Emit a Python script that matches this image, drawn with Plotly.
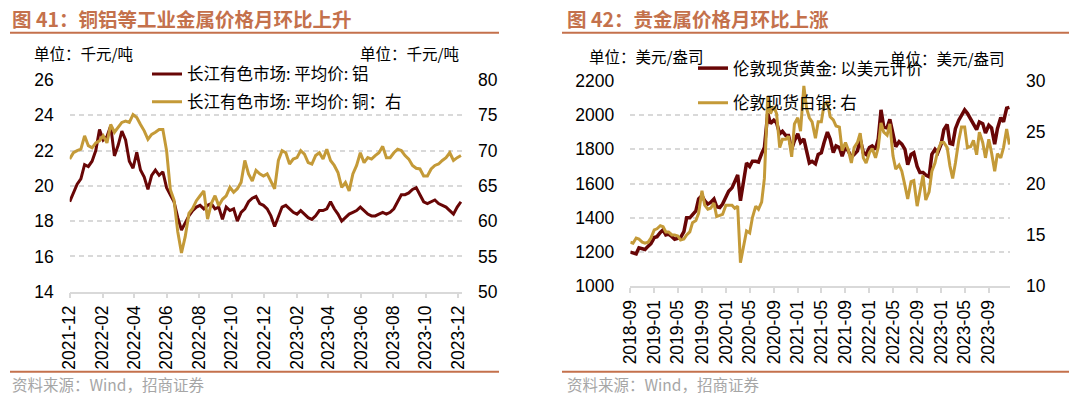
import pandas as pd
import plotly.graph_objects as go

# ---------------- data: left chart (weekly) ----------------
left_start = "2021-12-01"
left_periods = 106
aluminum = [19.1, 19.6, 20.1, 20.4, 21.2, 21.1, 21.4, 22.0, 23.2, 22.6,
            22.8, 23.4, 21.7, 22.3, 23.1, 22.6, 21.4, 21.0, 21.9, 20.9,
            20.5, 19.8, 20.6, 20.9, 20.6, 20.8, 19.9, 19.5, 19.1, 18.2,
            17.5, 17.9, 18.3, 18.6, 18.8, 18.9, 18.7, 18.9, 19.0, 18.7,
            18.8, 18.1, 18.8, 18.6, 18.7, 18.0, 18.5, 18.7, 19.1, 19.3,
            19.4, 19.0, 18.9, 18.7, 18.3, 17.7, 18.2, 18.8, 18.9, 18.7,
            18.5, 18.4, 18.6, 18.4, 18.2, 18.1, 18.3, 18.6, 18.6, 18.7,
            19.1, 18.7, 18.4, 18.0, 18.2, 18.4, 18.5, 18.6, 18.8, 18.6,
            18.4, 18.3, 18.3, 18.4, 18.5, 18.4, 18.5, 18.7, 19.1, 19.5,
            19.5, 19.6, 19.8, 19.9, 19.5, 19.1, 19.0, 19.1, 19.2, 19.0,
            18.9, 18.8, 18.6, 18.4, 18.8, 19.1]
copper = [68.8, 69.7, 70.0, 70.2, 72.1, 70.7, 70.4, 71.1, 71.4, 72.1,
          71.1, 73.7, 72.6, 73.3, 74.0, 74.2, 74.0, 75.1, 74.7, 73.7,
          72.8, 71.6, 72.3, 72.6, 73.0, 73.0, 70.0, 64.5, 63.0, 58.5,
          55.5, 57.8, 61.1, 61.8, 62.9, 63.6, 64.3, 60.3, 62.5, 63.6,
          62.2, 63.1, 63.6, 64.8, 64.1, 64.6, 65.5, 68.6, 66.7, 65.7,
          67.2, 66.7, 66.4, 66.7, 65.7, 64.6, 68.6, 70.0, 69.7, 68.1,
          68.8, 69.0, 70.0, 69.5, 68.3, 68.1, 69.3, 69.7, 68.8, 70.2,
          68.6, 67.9, 66.9, 64.8, 65.5, 64.3, 66.7, 67.9, 69.7, 68.3,
          69.0, 68.8, 69.3, 69.7, 70.6, 69.0, 69.0, 69.7, 70.2, 70.0,
          69.3, 68.8, 67.9, 67.5, 67.4, 66.4, 66.4, 67.4, 67.9, 68.1,
          68.6, 69.0, 69.7, 68.6, 69.0, 69.3]

# ---------------- data: right chart (semi-monthly) ----------------
right_start = "2018-09-01"
right_periods = 128
gold = [1200, 1195, 1190, 1225, 1220, 1215, 1235, 1250, 1285, 1290,
        1315, 1330, 1300, 1305, 1290, 1275, 1280, 1285, 1320, 1400,
        1400, 1420, 1440, 1510, 1530, 1500, 1480, 1490, 1510, 1465,
        1460, 1480, 1520, 1555, 1575, 1610, 1650, 1500, 1620, 1720,
        1700, 1730, 1730, 1725, 1775, 1810, 2010, 1950, 1970, 1955,
        1890, 1905, 1880, 1880, 1800, 1850, 1890, 1840, 1860, 1790,
        1720, 1730, 1715, 1770, 1780, 1840, 1900, 1860, 1780, 1820,
        1810, 1760, 1815, 1790, 1755, 1770, 1790, 1860, 1780, 1770,
        1810, 1820, 1800, 1860, 2030, 1930, 1925, 1975, 1880, 1815,
        1845, 1830, 1800, 1710, 1770, 1780, 1700, 1665, 1665, 1650,
        1640, 1770, 1800, 1780, 1830, 1915, 1945, 1835, 1830, 1920,
        1970, 2000, 2030, 2010, 1975, 1955, 1915, 1960, 1950, 1895,
        1940, 1925, 1830, 1920, 1985, 1960, 2040, 2045]
silver = [14.3, 14.2, 14.7, 14.6, 14.3, 14.2, 14.3, 14.7, 15.5, 15.6,
          15.9, 15.8, 15.3, 15.3, 15.0, 15.0, 14.9, 14.5, 14.6, 15.0,
          15.3, 16.2, 16.4, 17.1, 19.3, 17.9, 17.5, 17.6, 18.1, 16.8,
          16.9, 17.0, 17.9, 17.9, 17.9, 17.6, 17.8, 12.3, 14.2, 15.4,
          15.2, 16.7, 17.8, 17.5, 18.2, 20.5, 28.5, 26.8, 27.5, 26.8,
          23.5, 24.3, 24.3, 24.6, 22.6, 25.8, 26.4, 25.1, 29.5, 27.3,
          26.4, 26.0, 24.4, 26.0, 26.0, 27.7, 28.0, 26.5, 26.2, 25.6,
          25.5, 23.2, 24.0, 23.3, 22.0, 23.5, 24.0, 24.9, 22.5, 22.0,
          23.0, 23.4, 22.5, 23.5, 25.9, 25.0, 24.7, 25.8, 22.7, 21.4,
          21.8, 21.2, 19.8, 18.5, 20.2, 20.3, 17.8, 19.3, 20.8, 18.4,
          19.2, 21.2, 22.0, 23.2, 24.0, 24.0, 23.5, 21.7, 20.5, 22.0,
          24.2, 25.5, 25.5, 23.5, 23.6, 24.2, 22.8, 25.0, 24.0, 22.5,
          24.3, 23.0, 21.2, 22.9, 22.5, 23.5, 25.3, 23.8]

# ---------------- labels ----------------
name_al = "长江有色市场: 平均价: 铝"
name_cu = "长江有色市场: 平均价: 铜：右"
name_au = "伦敦现货黄金: 以美元计价"
name_ag = "伦敦现货白银: 右"
title_left = "图 41：铜铝等工业金属价格月环比上升"
title_right = "图 42：贵金属价格月环比上涨"
unit_left = "单位：千元/吨"
unit_right = "单位：美元/盎司"
source = "资料来源：Wind，招商证券"

left_dates = pd.date_range(left_start, periods=left_periods, freq="7D")
right_dates = pd.date_range(right_start, periods=right_periods, freq="SMS")
left_ticks = pd.date_range("2021-12-01", "2023-12-01", freq="2MS")
right_ticks = pd.date_range("2018-09-01", "2023-09-01", freq="4MS")

DARK = "#680606"
GOLDC = "#C49A38"
TITLEC = "#C4714C"
GRID = "#D9D9D9"
NUMFONT = "Liberation Sans, Arial"
CJK = "Noto Sans CJK SC"

W, H = 1075, 398
# the photographed page shows up inside an 8px frame, slightly scaled;
# convert target picture pixels to page fractions accordingly
SX, SY, OFF = 1059 / 1075, 382 / 398, 8.0
def px(x):
    return min(max(((x - OFF) / SX) / W, 0.0), 1.0)
def py(y):
    return min(max(1 - ((y - OFF) / SY) / H, 0.0), 1.0)

fig = go.Figure()
fig.add_trace(go.Scatter(x=left_dates, y=aluminum, name=name_al, mode="lines",
                         line=dict(color=DARK, width=3), xaxis="x", yaxis="y", legend="legend"))
fig.add_trace(go.Scatter(x=left_dates, y=copper, name=name_cu, mode="lines",
                         line=dict(color=GOLDC, width=3), xaxis="x", yaxis="y2", legend="legend2"))
fig.add_trace(go.Scatter(x=right_dates, y=gold, name=name_au, mode="lines",
                         line=dict(color=DARK, width=3.5), xaxis="x2", yaxis="y3", legend="legend3"))
fig.add_trace(go.Scatter(x=right_dates, y=silver, name=name_ag, mode="lines",
                         line=dict(color=GOLDC, width=3), xaxis="x2", yaxis="y4", legend="legend4"))

xcommon = dict(type="date", showline=True, linecolor=GRID, linewidth=1.5, ticks="outside",
               ticklen=5, tickcolor=GRID, tickwidth=1.5, showgrid=False, zeroline=False,
               tickangle=-90, tickfont=dict(family=NUMFONT, size=17.5, color="#000"))
ycommon = dict(showline=False, ticks="", zeroline=False, ticklabelstandoff=15,
               tickfont=dict(family=NUMFONT, size=17.5, color="#000"))

left_dom_x = [px(67.7), px(460)]
right_dom_x = [px(628.3), px(1008)]
left_dom_y = [py(292.7), py(78.8)]
right_dom_y = [py(287.3), py(79.5)]

legend_common = dict(bgcolor="rgba(0,0,0,0)", borderwidth=0, xanchor="left", yanchor="middle",
                     font=dict(family=CJK, size=16.5, color="#000"), itemwidth=30)

fig.update_layout(
    width=W, height=H, margin=dict(l=0, r=0, t=0, b=0),
    paper_bgcolor="white", plot_bgcolor="white", showlegend=True,
    xaxis=dict(xcommon, domain=left_dom_x, anchor="y",
               range=["2021-12-01", "2023-12-08"],
               tickvals=list(left_ticks), ticktext=[d.strftime("%Y-%m") for d in left_ticks]),
    yaxis=dict(ycommon, domain=left_dom_y, anchor="x", range=[14, 26], dtick=2, tick0=14,
               showgrid=True, gridcolor=GRID, gridwidth=1.5, griddash="5px,4px"),
    yaxis2=dict(ycommon, overlaying="y", side="right", anchor="x", range=[50, 80], dtick=5,
                tick0=50, showgrid=False),
    xaxis2=dict(xcommon, domain=right_dom_x, anchor="y3",
                range=["2018-09-01", "2023-12-18"],
                tickvals=list(right_ticks), ticktext=[d.strftime("%Y-%m") for d in right_ticks]),
    yaxis3=dict(ycommon, domain=right_dom_y, anchor="x2", range=[1000, 2200], dtick=200,
                tick0=1000, showgrid=True, gridcolor=GRID, gridwidth=1.5, griddash="5px,4px"),
    yaxis4=dict(ycommon, overlaying="y3", side="right", anchor="x2", range=[10, 30], dtick=5,
                tick0=10, showgrid=False),
    legend=dict(legend_common, x=px(145), y=py(73)),
    legend2=dict(legend_common, x=px(145), y=py(101)),
    legend3=dict(legend_common, x=px(691), y=py(67)),
    legend4=dict(legend_common, x=px(691), y=py(102)),
)

# titles, units, sources
ann = []
for x0, txt in [(8, title_left), (563, title_right)]:
    ann.append(dict(text="<b>" + txt + "</b>", x=px(x0), y=py(16.5), xref="paper", yref="paper",
                    xanchor="left", yanchor="middle", showarrow=False,
                    font=dict(family=CJK, size=19.5, color=TITLEC)))
for x0, txt in [(8, source), (563, source)]:
    ann.append(dict(text=txt, x=px(x0), y=py(385.5), xref="paper", yref="paper",
                    xanchor="left", yanchor="middle", showarrow=False,
                    font=dict(family=CJK, size=15.5, color="#A6A6A6")))
ann.append(dict(text=unit_left, x=px(30), y=py(51), xref="paper", yref="paper", xanchor="left",
                yanchor="middle", showarrow=False, font=dict(family=CJK, size=15.5, color="#000")))
ann.append(dict(text=unit_left, x=px(459), y=py(51), xref="paper", yref="paper", xanchor="right",
                yanchor="middle", showarrow=False, font=dict(family=CJK, size=15.5, color="#000")))
ann.append(dict(text=unit_right, x=px(585), y=py(54), xref="paper", yref="paper", xanchor="left",
                yanchor="middle", showarrow=False, font=dict(family=CJK, size=15.5, color="#000")))
ann.append(dict(text=unit_right, x=px(1005), y=py(57), xref="paper", yref="paper", xanchor="right",
                yanchor="middle", showarrow=False, font=dict(family=CJK, size=15.5, color="#000")))
fig.update_layout(annotations=ann)

shapes = []
for x0, x1 in [(5, 497), (560, 1075)]:
    shapes.append(dict(type="line", xref="paper", yref="paper", x0=px(x0), x1=px(x1),
                       y0=py(31), y1=py(31), line=dict(color=TITLEC, width=2)))
    shapes.append(dict(type="line", xref="paper", yref="paper", x0=px(x0), x1=px(x1),
                       y0=py(373.5), y1=py(373.5), line=dict(color=TITLEC, width=2)))
fig.update_layout(shapes=shapes)

fig.write_html("out.html", config={"displayModeBar": False},
               post_script="document.body.style.margin='0px';document.body.style.padding='0px';")
